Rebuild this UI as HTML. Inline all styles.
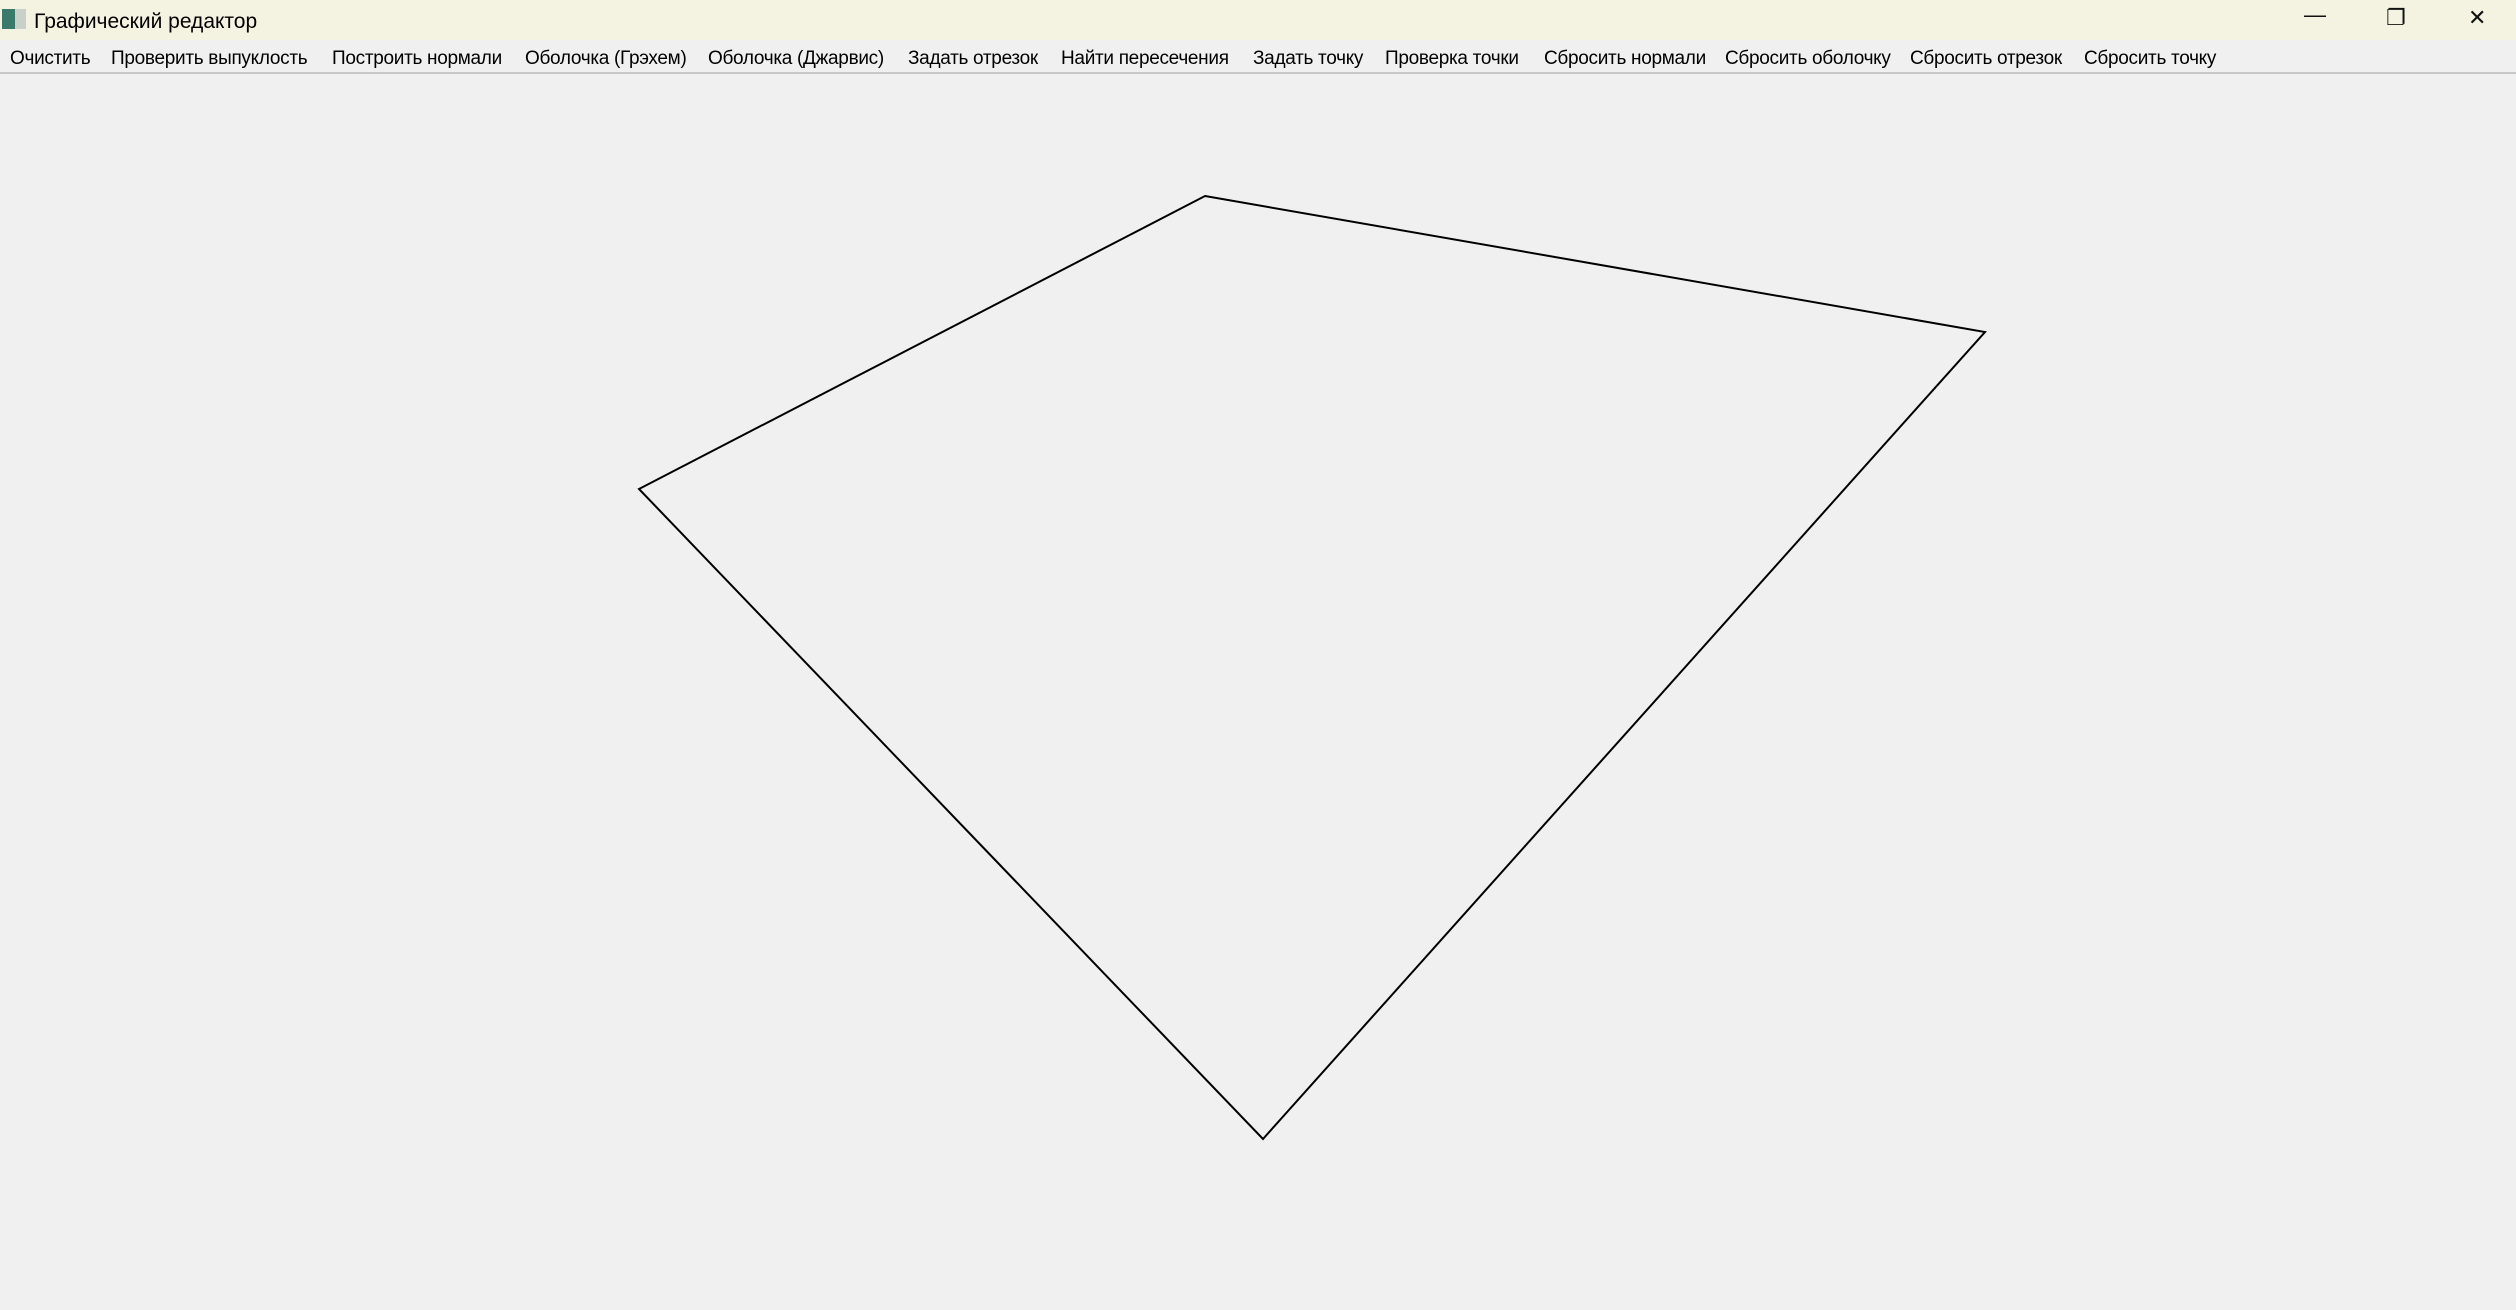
<!DOCTYPE html>
<html><head><meta charset="utf-8"><style>
body{margin:0;width:2516px;height:1310px;background:#f0f0f0;overflow:hidden;font-family:"Liberation Sans","DejaVu Sans",sans-serif;position:relative}
#title{position:absolute;left:0;top:0;width:2516px;height:40px;background:#f4f3e2}
#title span{position:absolute;left:34px;top:10px;font-size:21px;color:#000}
#icon{position:absolute;left:2px;top:9px;width:24px;height:20px;background:linear-gradient(90deg,#3a7a6a 0 55%,#c8d0c8 55%)}
.ctl{position:absolute;top:4px;font-size:22px;color:#111}
#menu{position:absolute;left:0;top:40px;width:2516px;height:32px;background:#f0f0f0;border-bottom:2px solid #c8c8c8}
.mi{position:absolute;top:8px;font-size:19px;color:#000;white-space:nowrap;letter-spacing:-0.3px}
svg{position:absolute;left:0;top:0}
</style></head><body>
<div id="title"><div id="icon"></div><span>Графический редактор</span>
<div class="ctl" style="left:2304px;top:2px">—</div>
<div class="ctl" style="left:2386px;top:5px">❐</div>
<div class="ctl" style="left:2468px;top:5px">✕</div></div>
<div id="menu">
<div class="mi" style="left:10px">Очистить</div>
<div class="mi" style="left:111px">Проверить выпуклость</div>
<div class="mi" style="left:332px">Построить нормали</div>
<div class="mi" style="left:525px">Оболочка (Грэхем)</div>
<div class="mi" style="left:708px">Оболочка (Джарвис)</div>
<div class="mi" style="left:908px">Задать отрезок</div>
<div class="mi" style="left:1061px">Найти пересечения</div>
<div class="mi" style="left:1253px">Задать точку</div>
<div class="mi" style="left:1385px">Проверка точки</div>
<div class="mi" style="left:1544px">Сбросить нормали</div>
<div class="mi" style="left:1725px">Сбросить оболочку</div>
<div class="mi" style="left:1910px">Сбросить отрезок</div>
<div class="mi" style="left:2084px">Сбросить точку</div>
</div>
<svg width="2516" height="1310">
<polygon points="1205,196 1985,332 1263,1139 639,489" fill="none" stroke="#000" stroke-width="2"/>
</svg>
</body></html>
